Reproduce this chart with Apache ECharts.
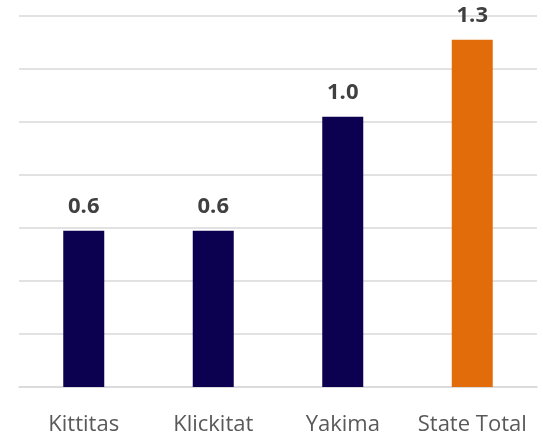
<!DOCTYPE html>
<html>
<head>
<meta charset="utf-8">
<script src="https://cdn.jsdelivr.net/npm/echarts@6/dist/echarts.min.js"></script>
<style>
    html, body { margin: 0; padding: 0; background: #ffffff; }
    #chart { width: 543px; height: 436px; }
</style>
</head>
<body>
<div id="chart"></div>
<script>
const categories = ["Kittitas", "Klickitat", "Yakima", "State Total"];
const values = [0.59, 0.59, 1.02, 1.31];
const barColors = ["#0c0050", "#0c0050", "#0c0050", "#e36c0a"];

const chart = echarts.init(document.getElementById("chart"));

chart.setOption({
    animation: false,
    grid: {
        left: 19,
        right: 6,
        top: 16,
        bottom: 49
    },
    xAxis: {
        type: "category",
        data: categories,
        axisLine: {
            lineStyle: { color: "#d9d9d9", width: 1.5 }
        },
        axisTick: { show: false },
        axisLabel: {
            interval: 0,
            hideOverlap: false,
            color: "#595959",
            fontSize: 22,
            fontFamily: "Open Sans",
            margin: 27
        }
    },
    yAxis: {
        type: "value",
        min: 0,
        max: 1.4,
        interval: 0.2,
        axisLabel: { show: false },
        axisLine: { show: false },
        axisTick: { show: false },
        splitLine: {
            lineStyle: { color: "#d9d9d9", width: 1.5 }
        }
    },
    series: [
        {
            type: "bar",
            barWidth: 41,
            data: values.map((v, i) => ({
                value: v,
                itemStyle: { color: barColors[i] }
            })),
            label: {
                show: true,
                position: "top",
                distance: 13,
                color: "#404040",
                fontSize: 22,
                fontWeight: "bold",
                fontFamily: "Open Sans",
                formatter: p => p.value.toFixed(1)
            }
        }
    ]
});
</script>
</body>
</html>
